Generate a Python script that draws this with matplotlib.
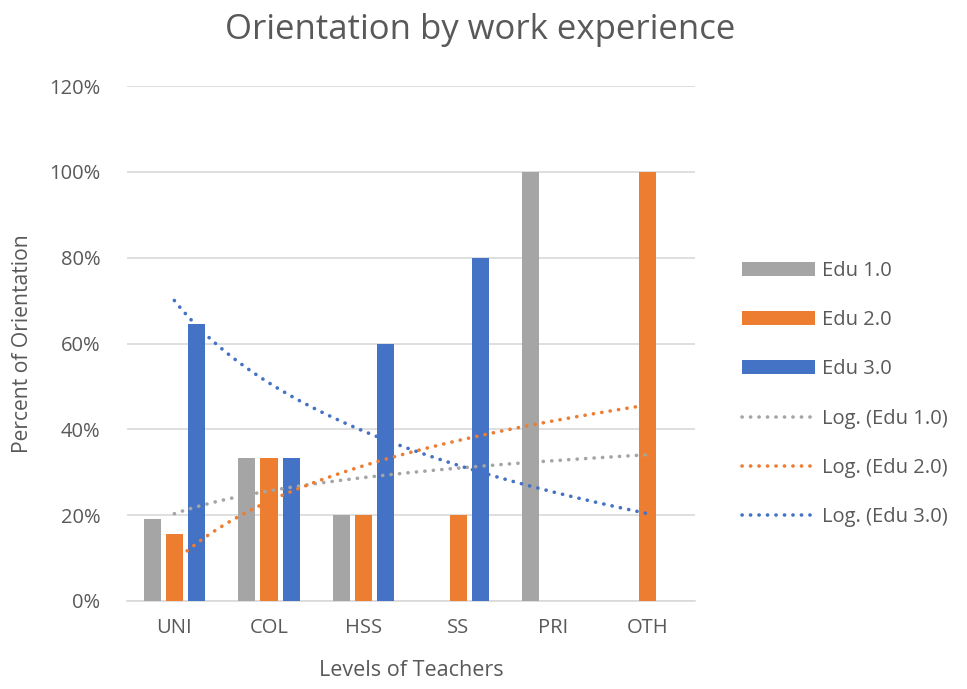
import numpy as np
import matplotlib
matplotlib.use('Agg')
import matplotlib.pyplot as plt
from matplotlib.ticker import PercentFormatter

# データ
levels = ['UNI', 'COL', 'HSS', 'SS', 'PRI', 'OTH']
edu1 = [19.2, 33.3, 20.0, 0.0, 100.0, 0.0]
edu2 = [15.6, 33.3, 20.0, 20.0, 0.0, 100.0]
edu3 = [64.5, 33.3, 60.0, 80.0, 0.0, 0.0]
series_names = ['Edu 1.0', 'Edu 2.0', 'Edu 3.0']

colors = ['#A5A5A5', '#ED7D31', '#4472C4']
text_color = '#595959'

plt.rcParams['font.family'] = ['Open Sans', 'DejaVu Sans']

fig = plt.figure(figsize=(9.67, 6.89), dpi=100)
ax = fig.add_axes([127/967, 1-601/689, 568/967, 515/689])

x = np.arange(1, len(levels) + 1)
width = 0.18
step = 0.235
handles = []
for i, (vals, c, name) in enumerate(zip([edu1, edu2, edu3], colors, series_names)):
    b = ax.bar(x + (i - 1) * step, vals, width, color=c, label=name, zorder=3)
    handles.append(b)

# 対数近似曲線 (Excelの Log. トレンドライン)
xs = np.linspace(1, 6, 200)
for vals, c, name in zip([edu1, edu2, edu3], colors, series_names):
    a, b0 = np.polyfit(np.log(x), vals, 1)
    ln, = ax.plot(xs, a * np.log(xs) + b0, color=c, linestyle=(0, (0.05, 2.3)),
                  linewidth=2.6, label='Log. (%s)' % name, zorder=4,
                  dash_capstyle='round')
    handles.append(ln)

ax.set_xlim(0.5, 6.5)
ax.set_ylim(0, 120)
ax.set_yticks(np.arange(0, 121, 20))
ax.yaxis.set_major_formatter(PercentFormatter(decimals=0))
ax.set_xticks(x)
ax.set_xticklabels(levels)
ax.grid(axis='y', color='#D9D9D9', linewidth=1.2, zorder=0)
for s in ['top', 'right', 'left']:
    ax.spines[s].set_visible(False)
ax.spines['bottom'].set_color('#D9D9D9')
ax.spines['bottom'].set_linewidth(1.2)
ax.tick_params(length=0, labelsize=14.5, colors=text_color, pad=12)
ax.tick_params(axis='y', pad=19)

ax.set_xlabel('Levels of Teachers', fontsize=15.5, color=text_color, labelpad=16)
ax.set_ylabel('Percent of Orientation', fontsize=15.2, color=text_color, labelpad=12)
fig.text(480/967, 1-30/689, 'Orientation by work experience', fontsize=25,
         color=text_color, ha='center', va='center')

leg = fig.legend(handles=handles, loc='center left', bbox_to_anchor=(742/967, 1-394/689),
                 frameon=False, fontsize=14.5, labelcolor=text_color,
                 borderpad=0, borderaxespad=0,
                 handlelength=3.6, labelspacing=1.45, handletextpad=0.35)

fig.savefig('out.png', dpi=100)
